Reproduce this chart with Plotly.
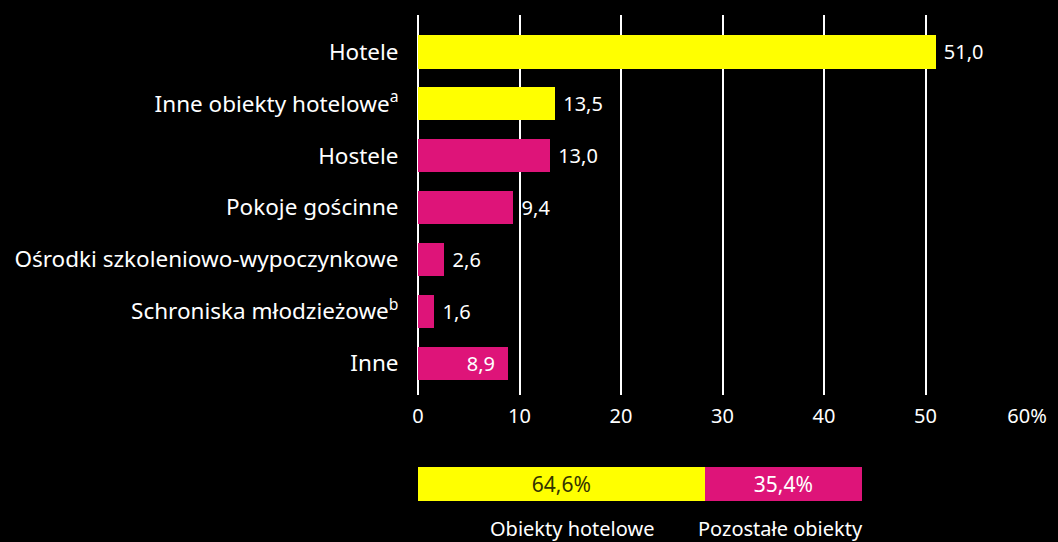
import plotly.graph_objects as go

categories = ["Hotele", "Inne obiekty hotelowe<sup>a</sup>", "Hostele", "Pokoje gościnne",
              "Ośrodki szkoleniowo-wypoczynkowe", "Schroniska młodzieżowe<sup>b</sup>", "Inne"]
values = [51.0, 13.5, 13.0, 9.4, 2.6, 1.6, 8.9]
groups = ["hotel", "hotel", "other", "other", "other", "other", "other"]
label_pos = ["outside", "outside", "outside", "outside", "outside", "outside", "inside"]

summary_labels = ["Obiekty hotelowe", "Pozostałe obiekty"]
summary_values = [64.6, 35.4]
summary_groups = ["hotel", "other"]

x_ticks = [0, 10, 20, 30, 40, 50, 60]
x_ticktext = ["0", "10", "20", "30", "40", "50", "60%"]

YELLOW = "#FFFF00"
MAGENTA = "#DE1479"
color_of = {"hotel": YELLOW, "other": MAGENTA}
FONT = "Noto Sans"

def fmt(v):
    return f"{v:.1f}".replace(".", ",")

def bar_label(v, pos):
    s = fmt(v)
    return "\u00a0" + s if pos == "outside" else s + "\u00a0\u00a0"

fig = go.Figure()

fig.add_trace(go.Bar(
    y=categories, x=values, orientation="h",
    marker=dict(color=[color_of[g] for g in groups], line=dict(width=0)),
    text=[bar_label(v, p) for v, p in zip(values, label_pos)], textposition=label_pos,
    insidetextanchor="end",
    textfont=dict(color="white", size=20, family=FONT),
    outsidetextfont=dict(color="white", size=20, family=FONT),
    insidetextfont=dict(color="white", size=20, family=FONT),
    cliponaxis=False, width=0.64, hoverinfo="skip",
    xaxis="x", yaxis="y",
))

summary_text_colors = ["#333300", "white"]
for lab, v, g, tc in zip(summary_labels, summary_values, summary_groups, summary_text_colors):
    fig.add_trace(go.Bar(
        y=["s"], x=[v], orientation="h", name=lab,
        marker=dict(color=color_of[g], line=dict(width=0)),
        text=[fmt(v) + "%"], textposition="inside", insidetextanchor="middle",
        textfont=dict(color=tc, size=21, family=FONT),
        width=1.0, hoverinfo="skip",
        xaxis="x2", yaxis="y2",
    ))

L, R, T, B = 418, 31, 15, 0
W, H = 1058, 542
ph = H - T - B
pw = W - L - R

def yfrac(px):
    return (H - B - px) / ph

fig.update_layout(
    width=W, height=H,
    paper_bgcolor="black", plot_bgcolor="black",
    margin=dict(l=L, r=R, t=T, b=B),
    showlegend=False, barmode="stack",
    font=dict(family=FONT, color="white", size=20),
    xaxis=dict(
        domain=[0, 1], range=[0, 60], tickvals=x_ticks, ticktext=x_ticktext,
        showgrid=True, gridcolor="white", gridwidth=2,
        zeroline=True, zerolinecolor="white", zerolinewidth=2,
        ticks="outside", ticklen=3, tickcolor="black",
        tickfont=dict(size=20, color="white", family=FONT),
        anchor="y", fixedrange=True,
    ),
    yaxis=dict(
        domain=[yfrac(395), 1], range=[6.615, -0.712],
        categoryorder="array", categoryarray=categories,
        showgrid=False, zeroline=False, showline=False,
        ticks="outside", ticklen=14, tickcolor="black",
        tickfont=dict(size=22.5, color="white", family=FONT),
        anchor="x", fixedrange=True,
    ),
    xaxis2=dict(
        domain=[0, (862 - L) / pw], range=[0, 100], visible=False,
        anchor="y2", fixedrange=True,
    ),
    yaxis2=dict(
        domain=[yfrac(501), yfrac(467)], range=[-0.5, 0.5], visible=False,
        anchor="x2", fixedrange=True,
    ),
)

label_x = [(572 - L) / pw, (780 - L) / pw]
for lab, lx in zip(summary_labels, label_x):
    fig.add_annotation(
        text=lab, x=lx, y=yfrac(528), xref="paper", yref="paper",
        xanchor="center", yanchor="middle", showarrow=False,
        font=dict(size=20, color="white", family=FONT),
    )

fig.write_html(
    "out.html",
    config={"displayModeBar": False, "staticPlot": True},
    post_script="document.body.style.margin='0';document.body.style.background='black';",
)
